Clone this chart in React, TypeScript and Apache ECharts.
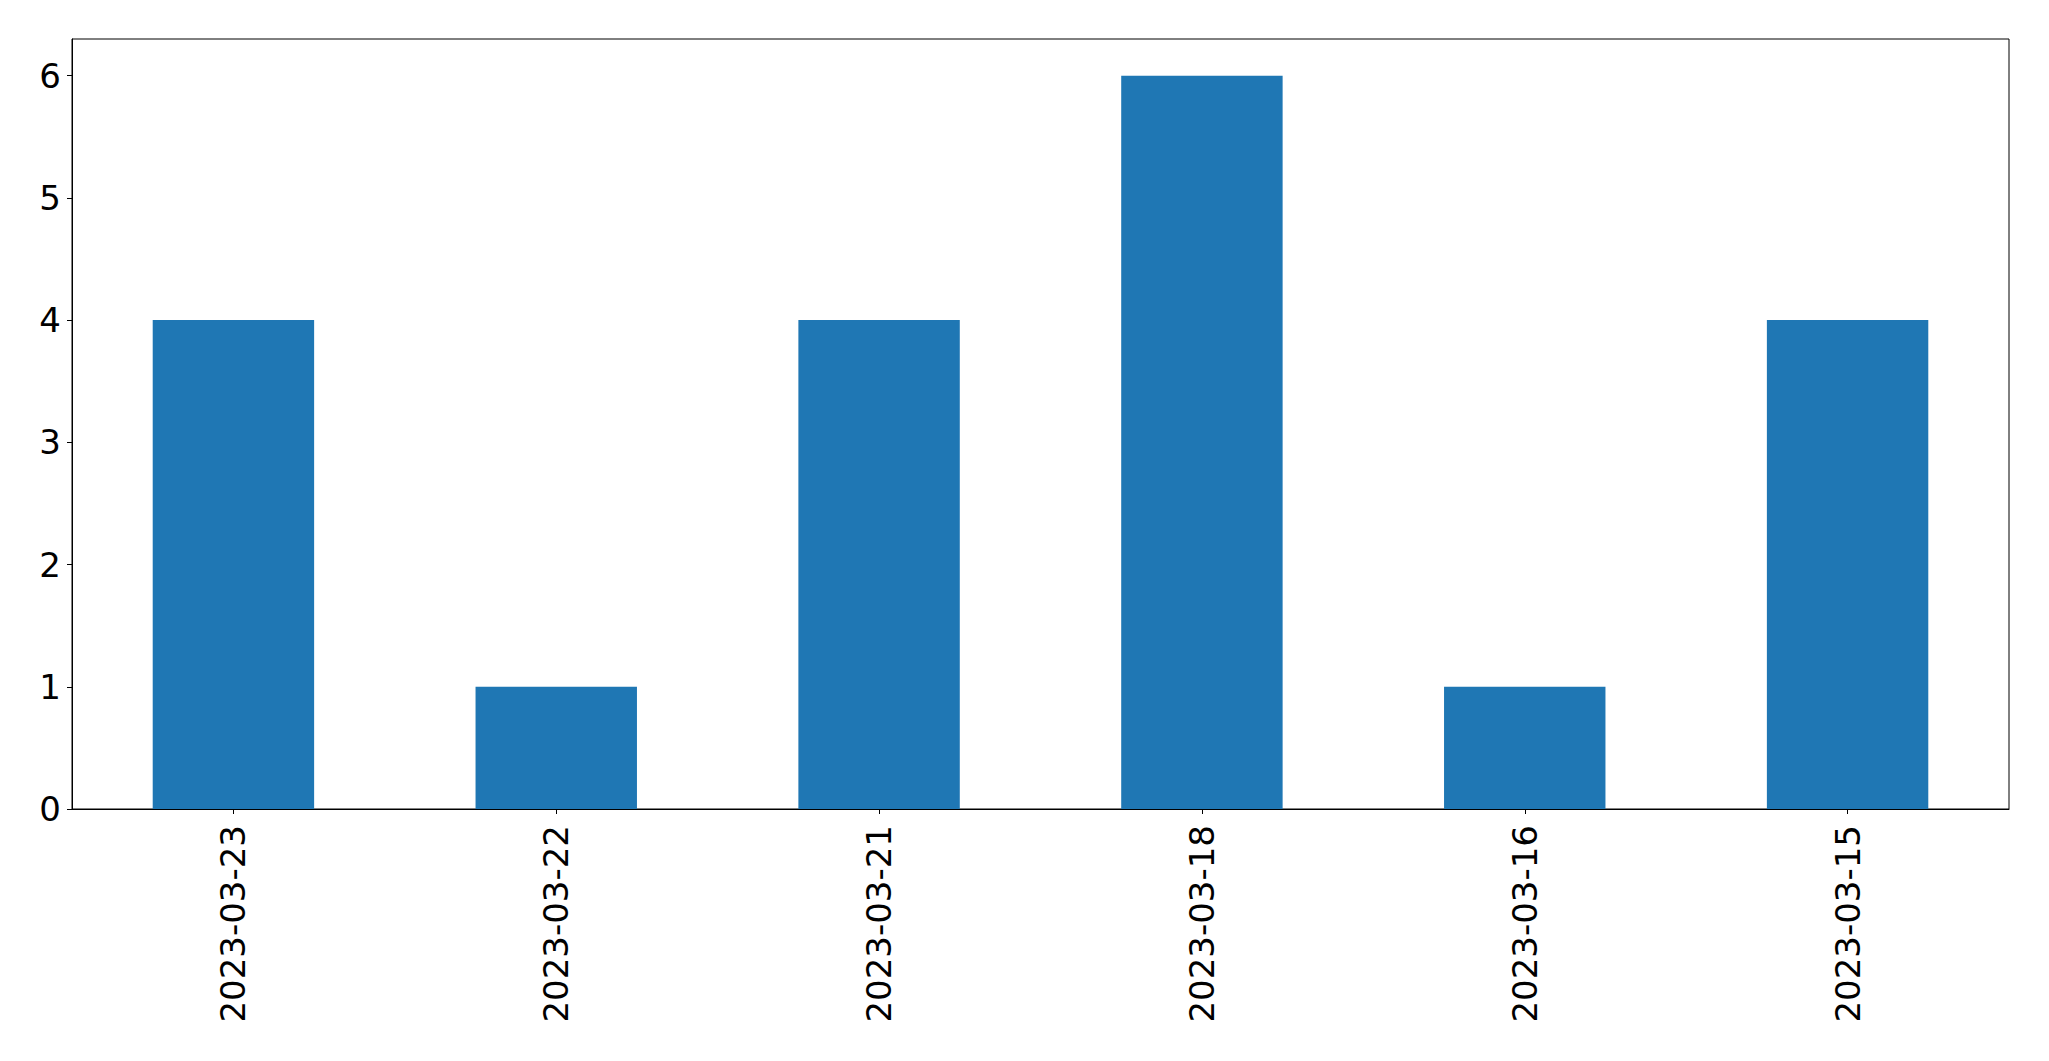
import React, { useEffect, useRef } from "react";
import * as echarts from "echarts";

const categories = ["2023-03-23", "2023-03-22", "2023-03-21", "2023-03-18", "2023-03-16", "2023-03-15"];
const counts = [4, 1, 4, 6, 1, 4];

export default function App() {
  const ref = useRef<HTMLDivElement>(null);
  useEffect(() => {
    const chart = echarts.init(ref.current!, null, { renderer: "svg" });
    const font = "DejaVu Sans";
    chart.setOption({
      animation: false,
      backgroundColor: "#ffffff",
      grid: {
        left: 72,
        top: 39,
        right: 40,
        bottom: 252,
        show: true,
        borderColor: "#000000",
        borderWidth: 1,
        backgroundColor: "transparent",
      },
      xAxis: {
        type: "category",
        data: categories,
        axisLine: { show: true, lineStyle: { color: "#000", width: 1 } },
        axisTick: { show: true, alignWithLabel: true, length: 5, lineStyle: { color: "#000", width: 1 } },
        axisLabel: {
          rotate: 90,
          margin: 16,
          color: "#000",
          fontFamily: font,
          fontSize: 34,
        },
        splitLine: { show: false },
      },
      yAxis: {
        type: "value",
        min: 0,
        max: 6.3,
        interval: 1,
        axisLine: { show: true, lineStyle: { color: "#000", width: 1 } },
        axisTick: { show: true, length: 5, lineStyle: { color: "#000", width: 1 } },
        axisLabel: {
          margin: 11,
          color: "#000",
          fontFamily: font,
          fontSize: 34,
          showMaxLabel: false,
          formatter: (v: number) => (Number.isInteger(v) ? String(v) : ""),
        },
        splitLine: { show: false },
      },
      series: [
        {
          type: "bar",
          data: counts,
          barWidth: "50%",
          itemStyle: { color: "#1f77b4" },
        },
      ],
    });
    return () => chart.dispose();
  }, []);
  return <div ref={ref} style={{ width: 2049, height: 1061, position: "absolute", left: 0, top: 0 }} />;
}
